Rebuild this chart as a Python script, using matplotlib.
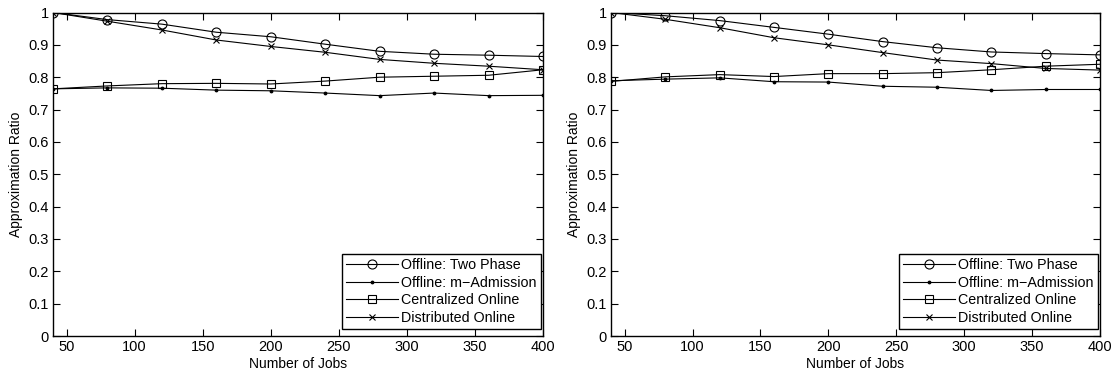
import matplotlib
matplotlib.use("Agg")
import matplotlib.pyplot as plt

plt.rcParams['font.family'] = ['Liberation Sans', 'DejaVu Sans']

jobs = [40, 80, 120, 160, 200, 240, 280, 320, 360, 400]

left_two_phase = [1.0, 0.978, 0.964, 0.939, 0.925, 0.902, 0.880, 0.871, 0.868, 0.864]
left_m_admission = [0.764, 0.767, 0.766, 0.760, 0.758, 0.751, 0.743, 0.751, 0.743, 0.744]
left_centralized = [0.764, 0.773, 0.780, 0.781, 0.779, 0.788, 0.800, 0.803, 0.806, 0.823]
left_distributed = [1.0, 0.973, 0.946, 0.915, 0.895, 0.877, 0.855, 0.843, 0.834, 0.823]

right_two_phase = [1.0, 0.990, 0.975, 0.954, 0.933, 0.910, 0.891, 0.878, 0.873, 0.869]
right_m_admission = [0.789, 0.794, 0.798, 0.786, 0.785, 0.772, 0.769, 0.759, 0.762, 0.762]
right_centralized = [0.787, 0.801, 0.808, 0.802, 0.811, 0.811, 0.814, 0.823, 0.834, 0.840]
right_distributed = [1.0, 0.979, 0.953, 0.922, 0.900, 0.876, 0.853, 0.842, 0.827, 0.822]

labels = ["Offline: Two Phase", "Offline: m\u2212Admission", "Centralized Online", "Distributed Online"]
xticks = [50, 100, 150, 200, 250, 300, 350, 400]
yticks = [0, 0.1, 0.2, 0.3, 0.4, 0.5, 0.6, 0.7, 0.8, 0.9, 1]
yticklabels = ["0", "0.1", "0.2", "0.3", "0.4", "0.5", "0.6", "0.7", "0.8", "0.9", "1"]

fig = plt.figure(figsize=(11.15, 3.77), dpi=100)
W, H = 1115, 377
axes_px = [(53, 543), (611, 1100)]
top_px, bot_px = 12.5, 336

datasets = [
    (left_two_phase, left_m_admission, left_centralized, left_distributed),
    (right_two_phase, right_m_admission, right_centralized, right_distributed),
]

for (x0, x1), data in zip(axes_px, datasets):
    aw, ah = x1 - x0, bot_px - top_px
    ax = fig.add_axes([x0 / W, (H - bot_px) / H, aw / W, ah / H])
    tp, ma, ce, di = data
    kw = dict(color='black', lw=0.8)
    ax.plot(jobs, tp, marker='o', ms=6.5, mfc='none', mec='black', mew=0.8, label=labels[0], **kw)
    ax.plot(jobs, ma, marker='.', ms=3.5, mfc='black', mec='black', label=labels[1], **kw)
    ax.plot(jobs, ce, marker='s', ms=5.5, mfc='none', mec='black', mew=0.8, label=labels[2], **kw)
    ax.plot(jobs, di, marker='x', ms=5, mec='black', mew=0.8, label=labels[3], **kw)
    ax.set_xlim(40, 400)
    ax.set_ylim(0, 1)
    ax.set_xticks(xticks)
    ax.set_xticklabels([str(t) for t in xticks], fontsize=10.5)
    ax.set_yticks(yticks)
    ax.set_yticklabels(yticklabels, fontsize=10.5)
    ax.tick_params(direction='in', length=5, width=0.8, top=True, right=True, pad=3)
    for s in ax.spines.values():
        s.set_linewidth(1.0)
    ax.set_xlabel("Number of Jobs", fontsize=10, labelpad=2)
    ax.set_ylabel("Approximation Ratio", fontsize=10, labelpad=4)
    leg = ax.legend(loc='lower right', bbox_to_anchor=(1 - 2 / aw, 7 / ah),
                    fontsize=10.3, frameon=True, fancybox=False,
                    edgecolor='black', framealpha=1, borderaxespad=0,
                    handlelength=3.6, labelspacing=0.25, borderpad=0.3,
                    handletextpad=0.25)
    leg.get_frame().set_linewidth(1.0)

fig.savefig("out.png", dpi=100)
